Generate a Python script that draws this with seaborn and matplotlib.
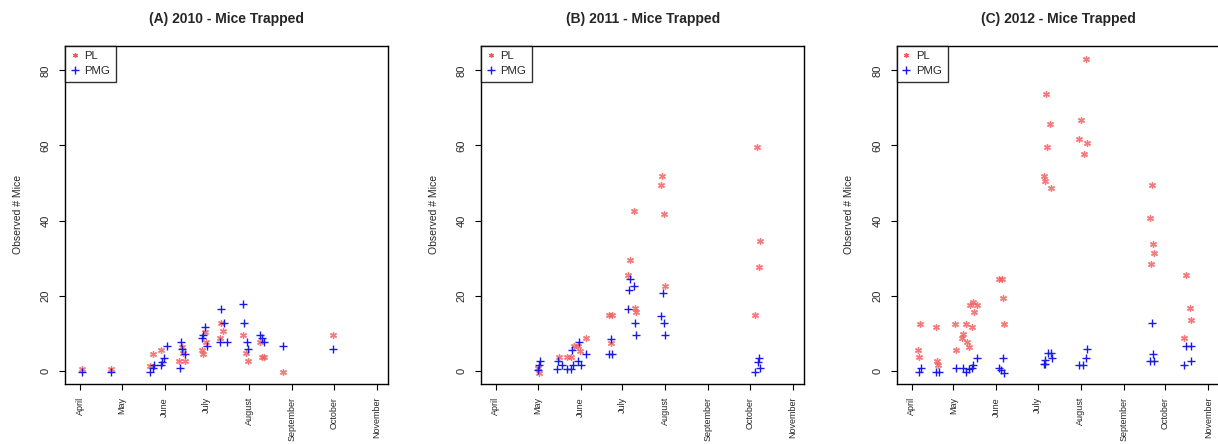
import matplotlib
matplotlib.use("Agg")
import matplotlib.pyplot as plt
from matplotlib.lines import Line2D
import numpy as np
import pandas as pd
import seaborn as sns

# ---------------- data (day of year, observed count) ----------------
month_days = [91, 121, 152, 182, 213, 244, 274, 305]
month_labels = ["April", "May", "June", "July", "August", "September", "October", "November"]
y_ticks = [0, 20, 40, 60, 80]
titles = ["(A) 2010 - Mice Trapped", "(B) 2011 - Mice Trapped", "(C) 2012 - Mice Trapped"]
species = ["PL", "PMG"]

pl_2010_day = [92.2, 113.3, 141.4, 143.8, 149.1, 162.6, 166.6, 164.2, 165.4, 178.7, 179.4, 181.0,
               181.5, 191.9, 193.0, 194.3, 208.7, 210.6, 211.8, 220.7, 221.9, 223.8, 237.5, 273.5]
pl_2010_n = [0.5, 0.5, 1.4, 4.5, 5.6, 2.7, 2.7, 6.5, 4.7, 5.6, 4.5, 10.5,
             7.6, 8.7, 12.7, 10.6, 9.7, 4.7, 2.7, 7.6, 3.6, 3.6, -0.3, 9.7]
pmg_2010_day = [92.2, 113.3, 141.4, 143.4, 144.5, 149.4, 150.3, 151.5, 153.5, 163.5, 164.7, 166.6,
                163.0, 178.7, 179.4, 181.0, 182.3, 191.9, 193.0, 194.7, 196.7, 208.2, 209.4, 211.1,
                212.3, 220.7, 221.9, 223.8, 237.5, 273.5]
pmg_2010_n = [-0.3, -0.3, -0.3, 0.7, 1.6, 1.6, 2.5, 3.4, 6.7, 7.6, 5.8, 4.5,
              0.7, 8.7, 9.6, 11.8, 6.7, 7.6, 16.5, 12.7, 7.6, 17.7, 12.7, 7.6,
              5.8, 9.6, 8.7, 7.6, 6.7, 5.8]

pl_2011_day = [210.8, 210.3, 190.6, 212.0, 279.3, 281.4, 280.5, 188.0, 186.1, 212.8, 191.4, 192.3,
               278.0, 172.6, 174.6, 173.6, 156.0, 147.4, 150.5, 151.7, 145.2, 142.2, 136.1, 122.0, 121.5]
pl_2011_n = [51.8, 49.6, 42.6, 41.7, 59.6, 34.7, 27.7, 29.6, 25.5, 22.6, 16.8, 15.6,
             14.8, 14.8, 14.8, 7.4, 8.7, 6.6, 6.6, 5.4, 3.8, 3.8, 3.8, -0.4, 0.7]
pmg_2011_day = [122.9, 121.7, 121.3, 135.4, 138.5, 134.9, 142.2, 145.2, 146.9, 150.5, 152.5, 145.8,
                151.2, 156.0, 173.6, 172.6, 174.6, 188.0, 187.0, 190.9, 186.3, 191.4, 192.3, 211.3,
                210.3, 212.0, 213.0, 280.5, 279.8, 281.6, 277.8]
pmg_2011_n = [2.7, 1.6, 0.4, 2.7, 1.6, 0.5, 0.5, 0.5, 1.6, 2.7, 1.6, 5.6,
              7.6, 4.5, 8.5, 4.5, 4.5, 24.6, 21.5, 22.6, 16.5, 12.7, 9.6, 20.7,
              14.6, 12.7, 9.6, 3.5, 2.5, 0.9, -0.3]

pl_2012_day = [216.4, 188.0, 212.8, 190.6, 188.7, 211.7, 217.3, 215.4, 186.1, 187.0, 191.4, 264.1,
               262.7, 265.1, 265.8, 263.4, 289.1, 291.5, 292.2, 287.2, 153.7, 156.0, 156.6, 157.3,
               134.9, 133.2, 137.8, 136.1, 129.9, 134.2, 122.2, 128.0, 127.0, 131.1, 132.3, 122.9,
               97.2, 95.5, 96.3, 108.3, 109.0, 109.7]
pl_2012_n = [82.9, 73.6, 66.7, 65.6, 59.7, 61.6, 60.6, 57.7, 51.9, 50.5, 48.6, 49.6,
             40.7, 33.7, 31.5, 28.6, 25.5, 16.7, 13.6, 8.7, 24.6, 24.6, 19.5, 12.5,
             18.4, 17.6, 17.6, 15.6, 12.5, 11.6, 12.5, 9.8, 8.7, 7.6, 6.5, 5.5,
             12.5, 5.5, 3.6, 11.6, 2.7, 1.6]
pmg_2012_day = [96.5, 97.7, 108.3, 110.9, 122.9, 127.7, 130.1, 132.3, 134.2, 135.4, 137.8, 153.7,
                155.3, 157.7, 156.6, 186.5, 187.5, 187.5, 189.4, 191.4, 192.3, 211.7, 214.6, 216.4,
                217.3, 262.7, 265.8, 265.1, 264.3, 287.4, 292.7, 289.1, 292.2]
pmg_2012_n = [-0.2, 0.7, -0.2, -0.2, 0.7, 0.7, -0.2, 0.5, 0.9, 1.6, 3.5, 0.7,
              0.3, -0.4, 3.5, 1.8, 1.8, 2.9, 4.7, 4.7, 3.5, 1.6, 1.6, 3.5,
              5.8, 2.6, 2.6, 4.5, 12.7, 1.6, 2.6, 6.7, 6.7]

panels = [
    (pl_2010_day, pl_2010_n, pmg_2010_day, pmg_2010_n),
    (pl_2011_day, pl_2011_n, pmg_2011_day, pmg_2011_n),
    (pl_2012_day, pl_2012_n, pmg_2012_day, pmg_2012_n),
]

# ---------------- style ----------------
sns.set_theme(style="white")
plt.rcParams["font.family"] = ["Liberation Sans", "DejaVu Sans"]

PL_COLOR = "#f05a5a"
PMG_COLOR = "#1a1ae6"
ASTERISK = (6, 2, 0)

fig = plt.figure(figsize=(12.18, 4.44), dpi=100)
lefts = [0.0534, 0.3949, 0.7362]
width, bottom, height = 0.2655, 0.1351, 0.7624

for i, (pld, pln, pmd, pmn) in enumerate(panels):
    ax = fig.add_axes([lefts[i], bottom, width, height])
    df = pd.concat([
        pd.DataFrame({"day": pld, "n": pln, "sp": species[0]}),
        pd.DataFrame({"day": pmd, "n": pmn, "sp": species[1]}),
    ], ignore_index=True)
    sns.scatterplot(data=df[df.sp == "PL"], x="day", y="n", ax=ax, marker=ASTERISK,
                    color=PL_COLOR, s=18, linewidth=1.0, alpha=0.8, legend=False)
    sns.scatterplot(data=df[df.sp == "PMG"], x="day", y="n", ax=ax, marker="+",
                    color=PMG_COLOR, s=36, linewidth=1.0, legend=False)

    ax.set_xlim(80.2, 313.4)
    ax.set_ylim(-3.46, 86.6)
    ax.set_xticks(month_days)
    ax.set_xticklabels(month_labels, rotation=90, fontsize=6.5)
    ax.set_yticks(y_ticks)
    ax.set_yticklabels([str(v) for v in y_ticks], rotation=90, va="center", fontsize=8)
    ax.tick_params(axis="both", direction="out", length=4.3, width=0.8, color="black",
                   bottom=True, left=True)
    ax.tick_params(axis="y", pad=6)
    ax.tick_params(axis="x", pad=5)
    for sp in ax.spines.values():
        sp.set_color("black")
        sp.set_linewidth(1.0)
    ax.set_xlabel("")
    ax.set_ylabel("Observed # Mice", fontsize=7.5, labelpad=13)
    ax.set_title(titles[i], fontsize=10, fontweight="bold", pad=16)

    handles = [
        Line2D([], [], linestyle="none", marker=ASTERISK, color=PL_COLOR, markersize=3.5,
               markeredgewidth=0.9),
        Line2D([], [], linestyle="none", marker="+", color=PMG_COLOR, markersize=6,
               markeredgewidth=1.0),
    ]
    leg = ax.legend(handles, species, loc="upper left", bbox_to_anchor=(0, 1),
                    borderaxespad=0, fancybox=False, frameon=True, fontsize=8.2,
                    handlelength=0.7, handletextpad=0.5, borderpad=0.5, labelspacing=0.45)
    leg.get_frame().set_edgecolor("black")
    leg.get_frame().set_linewidth(1.0)

fig.savefig("out.png", dpi=100, facecolor="white")
